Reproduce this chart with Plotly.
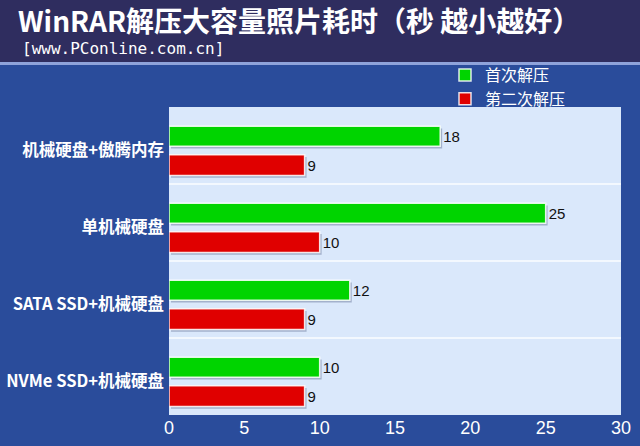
import plotly.graph_objects as go

categories = ["机械硬盘+傲腾内存", "单机械硬盘", "SATA SSD+机械硬盘", "NVMe SSD+机械硬盘"]
first_run = [18, 25, 12, 10]
second_run = [9, 10, 9, 9]
series_names = ["首次解压", "第二次解压"]
x_ticks = [0, 5, 10, 15, 20, 25, 30]

W, H = 640, 446
L, R, T, B = 169, 19, 107, 31
pw, ph = W - L - R, H - T - B

def px_to_paper_y(py):
    return (H - B - py) / ph

def px_to_paper_x(px):
    return (px - L) / pw

pos = list(range(len(categories)))
cjk = "Noto Sans CJK SC"

fig = go.Figure()

# shadows
for vals, off, wid in [(first_run, 0.25, 0.26), (second_run, 0.62, 0.27)]:
    fig.add_trace(go.Bar(
        x=vals, y=pos, orientation="h", base=0.13,
        offset=off + 0.03, width=wid,
        marker=dict(color="rgba(80,95,135,0.40)", line=dict(width=0)),
        showlegend=False, hoverinfo="skip",
    ))

fig.add_trace(go.Bar(
    x=first_run, y=pos, orientation="h", name=series_names[0],
    offset=0.25, width=0.26,
    marker=dict(color="#00d400", line=dict(color="rgba(255,255,255,0.85)", width=1.5)),
    text=[str(v) for v in first_run], textposition="outside",
    textfont=dict(color="#111111", size=15, family="Liberation Sans, Arial"),
    cliponaxis=False,
))
fig.add_trace(go.Bar(
    x=second_run, y=pos, orientation="h", name=series_names[1],
    offset=0.62, width=0.27,
    marker=dict(color="#e00000", line=dict(color="rgba(255,255,255,0.85)", width=1.5)),
    text=[str(v) for v in second_run], textposition="outside",
    textfont=dict(color="#111111", size=15, family="Liberation Sans, Arial"),
    cliponaxis=False,
))

shapes = []
# header band
shapes.append(dict(type="rect", xref="paper", yref="paper",
                   x0=px_to_paper_x(-5), x1=px_to_paper_x(W + 5),
                   y0=px_to_paper_y(62), y1=px_to_paper_y(-5),
                   fillcolor="#2f2d5f", line=dict(width=0), layer="below"))
shapes.append(dict(type="rect", xref="paper", yref="paper",
                   x0=px_to_paper_x(-5), x1=px_to_paper_x(W + 5),
                   y0=px_to_paper_y(65), y1=px_to_paper_y(62),
                   fillcolor="#8fa3da", line=dict(width=0), layer="below"))
# group separators
for yv in [1, 2, 3]:
    shapes.append(dict(type="line", xref="paper", yref="y",
                       x0=0, x1=1, y0=yv, y1=yv,
                       line=dict(color="rgba(255,255,255,0.9)", width=1.5), layer="below"))

fig.update_layout(
    width=W, height=H,
    margin=dict(l=L, r=R, t=T, b=B, autoexpand=False),
    paper_bgcolor="#2a4c9b",
    plot_bgcolor="#dae8fb",
    barmode="overlay",
    shapes=shapes,
    showlegend=True,
    legend=dict(
        x=px_to_paper_x(445), y=px_to_paper_y(58), xanchor="left", yanchor="top",
        bgcolor="rgba(0,0,0,0)", font=dict(color="white", size=16, family=cjk),
        traceorder="normal", tracegroupgap=0, itemwidth=30,
    ),
    xaxis=dict(
        range=[0, 30], tickvals=x_ticks, ticktext=[str(t) for t in x_ticks],
        showgrid=False, zeroline=False, showline=False, automargin=False,
        tickfont=dict(color="white", size=18, family="Liberation Sans, Arial"),
        ticks="", ticklabelstandoff=0,
    ),
    yaxis=dict(
        range=[4, 0], tickvals=[p + 0.56 for p in pos], ticktext=categories,
        showgrid=False, zeroline=False, showline=False, ticks="", automargin=False,
        tickfont=dict(color="white", size=16.5, family=cjk, weight="bold"),
        ticklabelstandoff=4,
    ),
    annotations=[
        dict(text="WinRAR解压大容量照片耗时（秒 越小越好）", xref="paper", yref="paper",
             x=px_to_paper_x(16), y=px_to_paper_y(20), xanchor="left", yanchor="middle",
             showarrow=False, font=dict(color="white", size=28, family=cjk, weight="bold")),
        dict(text="[www.PConline.com.cn]", xref="paper", yref="paper",
             x=px_to_paper_x(20), y=px_to_paper_y(48), xanchor="left", yanchor="middle",
             showarrow=False, font=dict(color="white", size=16, family="DejaVu Sans Mono")),
    ],
)

fig.write_html("out.html", config={"displayModeBar": False},
               post_script="document.body.style.margin='0';document.body.style.overflow='hidden';")
